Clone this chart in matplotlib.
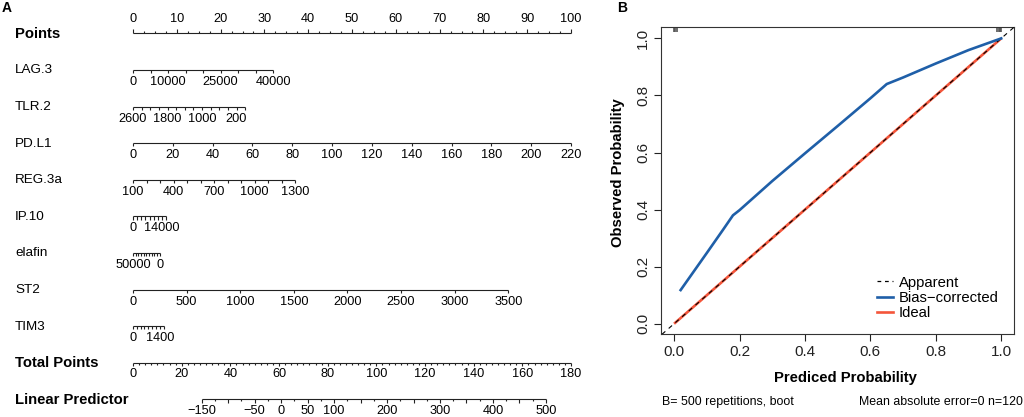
import matplotlib
matplotlib.use("Agg")
import matplotlib.pyplot as plt
import numpy as np
from matplotlib import transforms
from matplotlib.lines import Line2D

plt.rcParams['font.family'] = ['Liberation Sans', 'DejaVu Sans']

# ---------------- Panel A: nomogram data ----------------
var_names = ["LAG.3", "TLR.2", "PD.L1", "REG.3a", "IP.10", "elafin", "ST2", "TIM3"]
# value at 0 points, value at the far end of the scale
var_value_start = [0, 2600, 0, 100, 0, 50000, 0, 0]
var_value_end = [40000, 0, 220, 1300, 16000, 0, 3500, 1600]
# points reached at the far end of each scale
var_points_end = [32.0, 25.6, 100.0, 37.0, 7.6, 6.1, 85.7, 7.0]
var_ticks = [
    [0, 5000, 10000, 15000, 20000, 25000, 30000, 35000, 40000],
    [2600, 2400, 2200, 2000, 1800, 1600, 1400, 1200, 1000, 800, 600, 400, 200, 0],
    [0, 20, 40, 60, 80, 100, 120, 140, 160, 180, 200, 220],
    [100, 200, 300, 400, 500, 600, 700, 800, 900, 1000, 1100, 1200, 1300],
    [0, 2000, 4000, 6000, 8000, 10000, 12000, 14000, 16000],
    [50000, 45000, 40000, 35000, 30000, 25000, 20000, 15000, 10000, 5000, 0],
    [0, 500, 1000, 1500, 2000, 2500, 3000, 3500],
    [0, 200, 400, 600, 800, 1000, 1200, 1400, 1600],
]
var_tick_labels = [
    [0, 10000, 25000, 40000],
    [2600, 1800, 1000, 200],
    [0, 20, 40, 60, 80, 100, 120, 140, 160, 180, 200, 220],
    [100, 400, 700, 1000, 1300],
    [0, 14000],
    [50000, 0],
    [0, 500, 1000, 1500, 2000, 2500, 3000, 3500],
    [0, 1400],
]
points_major = [0, 10, 20, 30, 40, 50, 60, 70, 80, 90, 100]
points_minor_step = 2.5
total_points_major = [0, 20, 40, 60, 80, 100, 120, 140, 160, 180]
total_points_max = 180
total_minor_step = 2.5
lp_labels = [-150, -50, 0, 50, 100, 200, 300, 400, 500]
lp_range = [-150, 500]
lp_total_points = [28.2, 169.7]   # total points at which lp_range values sit
lp_minor_step = 25

# ---------------- Panel B: calibration data ----------------
pred_prob = [0.02, 0.10, 0.15, 0.18, 0.20, 0.30, 0.40, 0.50, 0.60, 0.65, 0.70, 0.80, 0.90, 1.00]
bias_corrected = [0.118, 0.248, 0.330, 0.38, 0.398, 0.50, 0.597, 0.693, 0.79, 0.84, 0.863, 0.912, 0.959, 1.00]
ideal_x = [0.0, 1.0]
ideal_y = [0.0, 1.0]
apparent_x = [0.0, 1.0]
apparent_y = [0.0, 1.0]
rug_pred = [0.000, 0.004, 0.008, 0.988, 0.992, 0.996, 1.000]

W, H = 1024, 417
fig = plt.figure(figsize=(W / 100, H / 100), dpi=100)

# ---------------- Panel A ----------------
ax = fig.add_axes([133 / W, 1 - 399.3 / H, 438 / W, 366 / H])
ax.set_xlim(0, 100)
ax.set_ylim(10, 0)
ax.axis('off')
px_row = 36.6  # pixels per row
lc = '#222222'
lw = 0.8
tick_fs = 9.2
lab_trans = transforms.blended_transform_factory(fig.transFigure, ax.transData)


def seg(x0, x1, y0, y1):
    ax.plot([x0, x1], [y0, y1], color=lc, lw=lw, solid_capstyle='butt', clip_on=False)


# Points row
r = 0
seg(0, 100, r, r)
for v in np.arange(0, 100 + 1e-9, points_minor_step):
    L = 4.0 if v in points_major else 2.0
    seg(v, v, r, r - L / px_row)
for v in points_major:
    ax.text(v, r - 14 / px_row, str(v), ha='center', va='center', fontsize=tick_fs, clip_on=False)
ax.text(15 / W, r + 0.5 / px_row, "Points", transform=lab_trans, ha='left', va='center',
        fontsize=10.7, fontweight='bold')

# Variable rows
for i, name in enumerate(var_names):
    r = i + 1
    v0, v1, p1 = var_value_start[i], var_value_end[i], var_points_end[i]

    def topts(v):
        return (v - v0) / (v1 - v0) * p1

    seg(topts(v0), topts(v1), r, r)
    for v in var_ticks[i]:
        seg(topts(v), topts(v), r, r + 3.3 / px_row)
    for v in var_tick_labels[i]:
        ax.text(topts(v), r + 12 / px_row, str(v), ha='center', va='center', fontsize=tick_fs,
                clip_on=False)
    ax.text(15 / W, r + 0.5 / px_row, name, transform=lab_trans, ha='left', va='center',
            fontsize=9.7)

# Total points row
r = 9
tscale = 100 / total_points_max
seg(0, 100, r, r)
for v in np.arange(0, total_points_max + 1e-9, total_minor_step):
    L = 3.5 if v in total_points_major else 2.0
    seg(v * tscale, v * tscale, r, r + L / px_row)
for v in total_points_major:
    ax.text(v * tscale, r + 11 / px_row, str(v), ha='center', va='center', fontsize=tick_fs,
            clip_on=False)
ax.text(15 / W, r + 0.5 / px_row, "Total Points", transform=lab_trans, ha='left', va='center',
        fontsize=10.7, fontweight='bold')

# Linear predictor row
r = 10


def lp_pos(v):
    t = lp_total_points[0] + (v - lp_range[0]) / (lp_range[1] - lp_range[0]) * (
        lp_total_points[1] - lp_total_points[0])
    return t * tscale


seg(lp_pos(lp_range[0]), lp_pos(lp_range[1]), r, r)
for v in np.arange(lp_range[0], lp_range[1] + 1e-9, lp_minor_step):
    L = 3.5 if v % 50 == 0 else 2.0
    seg(lp_pos(v), lp_pos(v), r, r + L / px_row)
for v in lp_labels:
    ax.text(lp_pos(v), r + 12 / px_row, str(v).replace('-', '\u2212'), ha='center', va='center',
            fontsize=tick_fs, clip_on=False)
ax.text(15 / W, r + 0.5 / px_row, "Linear Predictor", transform=lab_trans, ha='left',
        va='center', fontsize=10.7, fontweight='bold')

fig.text(7 / W, 1 - 7.5 / H, "A", ha='center', va='center', fontsize=10, fontweight='bold')

# ---------------- Panel B ----------------
ax2 = fig.add_axes([661 / W, 1 - 334.3 / H, 353.3 / W, 307.6 / H])
ax2.set_xlim(-0.04, 1.04)
ax2.set_ylim(-0.037, 1.041)
blue = '#1f5fa8'
red = '#f4553a'
ax2.plot(ideal_x, ideal_y, color=red, lw=1.9, solid_capstyle='butt', zorder=2)
ax2.axline((apparent_x[0], apparent_y[0]), (apparent_x[1], apparent_y[1]), color='black',
           lw=0.8, dashes=(4, 4), zorder=3)
ax2.plot(pred_prob, bias_corrected, color=blue, lw=1.9, zorder=4)
for v in rug_pred:
    ax2.plot([v, v], [1.041, 1.041 - 5.7 / 285.4], color='#555555', lw=1.2, zorder=1,
             solid_capstyle='butt')

ticks = [0.0, 0.2, 0.4, 0.6, 0.8, 1.0]
ax2.set_xticks(ticks)
ax2.set_yticks(ticks)
ax2.set_xticklabels([f"{t:.1f}" for t in ticks])
ax2.set_yticklabels([f"{t:.1f}" for t in ticks], rotation=90, va='center')
ax2.tick_params(axis='both', direction='out', length=5, width=0.8, labelsize=11,
                colors='#222222')
ax2.tick_params(axis='x', pad=3)
ax2.tick_params(axis='y', pad=3)
for s in ax2.spines.values():
    s.set_linewidth(0.8)
    s.set_color('#333333')

ax2.set_xlabel("Prediced Probability", fontsize=10.7, fontweight='bold')
ax2.xaxis.set_label_coords((845.5 - 661) / 353.3, (334.3 - 378.3) / 307.6)
ax2.xaxis.label.set_va('center')
ax2.set_ylabel("Observed Probability", fontsize=10.7, fontweight='bold')
ax2.yaxis.set_label_coords((618.3 - 661) / 353.3, (334.3 - 172.5) / 307.6)
ax2.yaxis.label.set_va('center')

handles = [
    Line2D([0], [0], color='black', lw=0.9, dashes=(3, 3)),
    Line2D([0], [0], color=blue, lw=1.9),
    Line2D([0], [0], color=red, lw=1.9),
]
fig.legend(handles, ["Apparent", "Bias\u2212corrected", "Ideal"], loc='center left',
           bbox_to_anchor=(876.7 / W, 1 - 298 / H), frameon=False, fontsize=10.7,
           handlelength=1.1, handletextpad=0.4, labelspacing=0.1, borderpad=0,
           borderaxespad=0)

fig.text(661.7 / W, 1 - 402 / H, "B= 500 repetitions, boot", ha='left', va='center',
         fontsize=8.9)
fig.text(1022.7 / W, 1 - 402 / H, "Mean absolute error=0 n=120", ha='right', va='center',
         fontsize=8.9)
fig.text(622 / W, 1 - 7.5 / H, "B", ha='center', va='center', fontsize=10, fontweight='bold')

fig.savefig("out.png", dpi=100)
